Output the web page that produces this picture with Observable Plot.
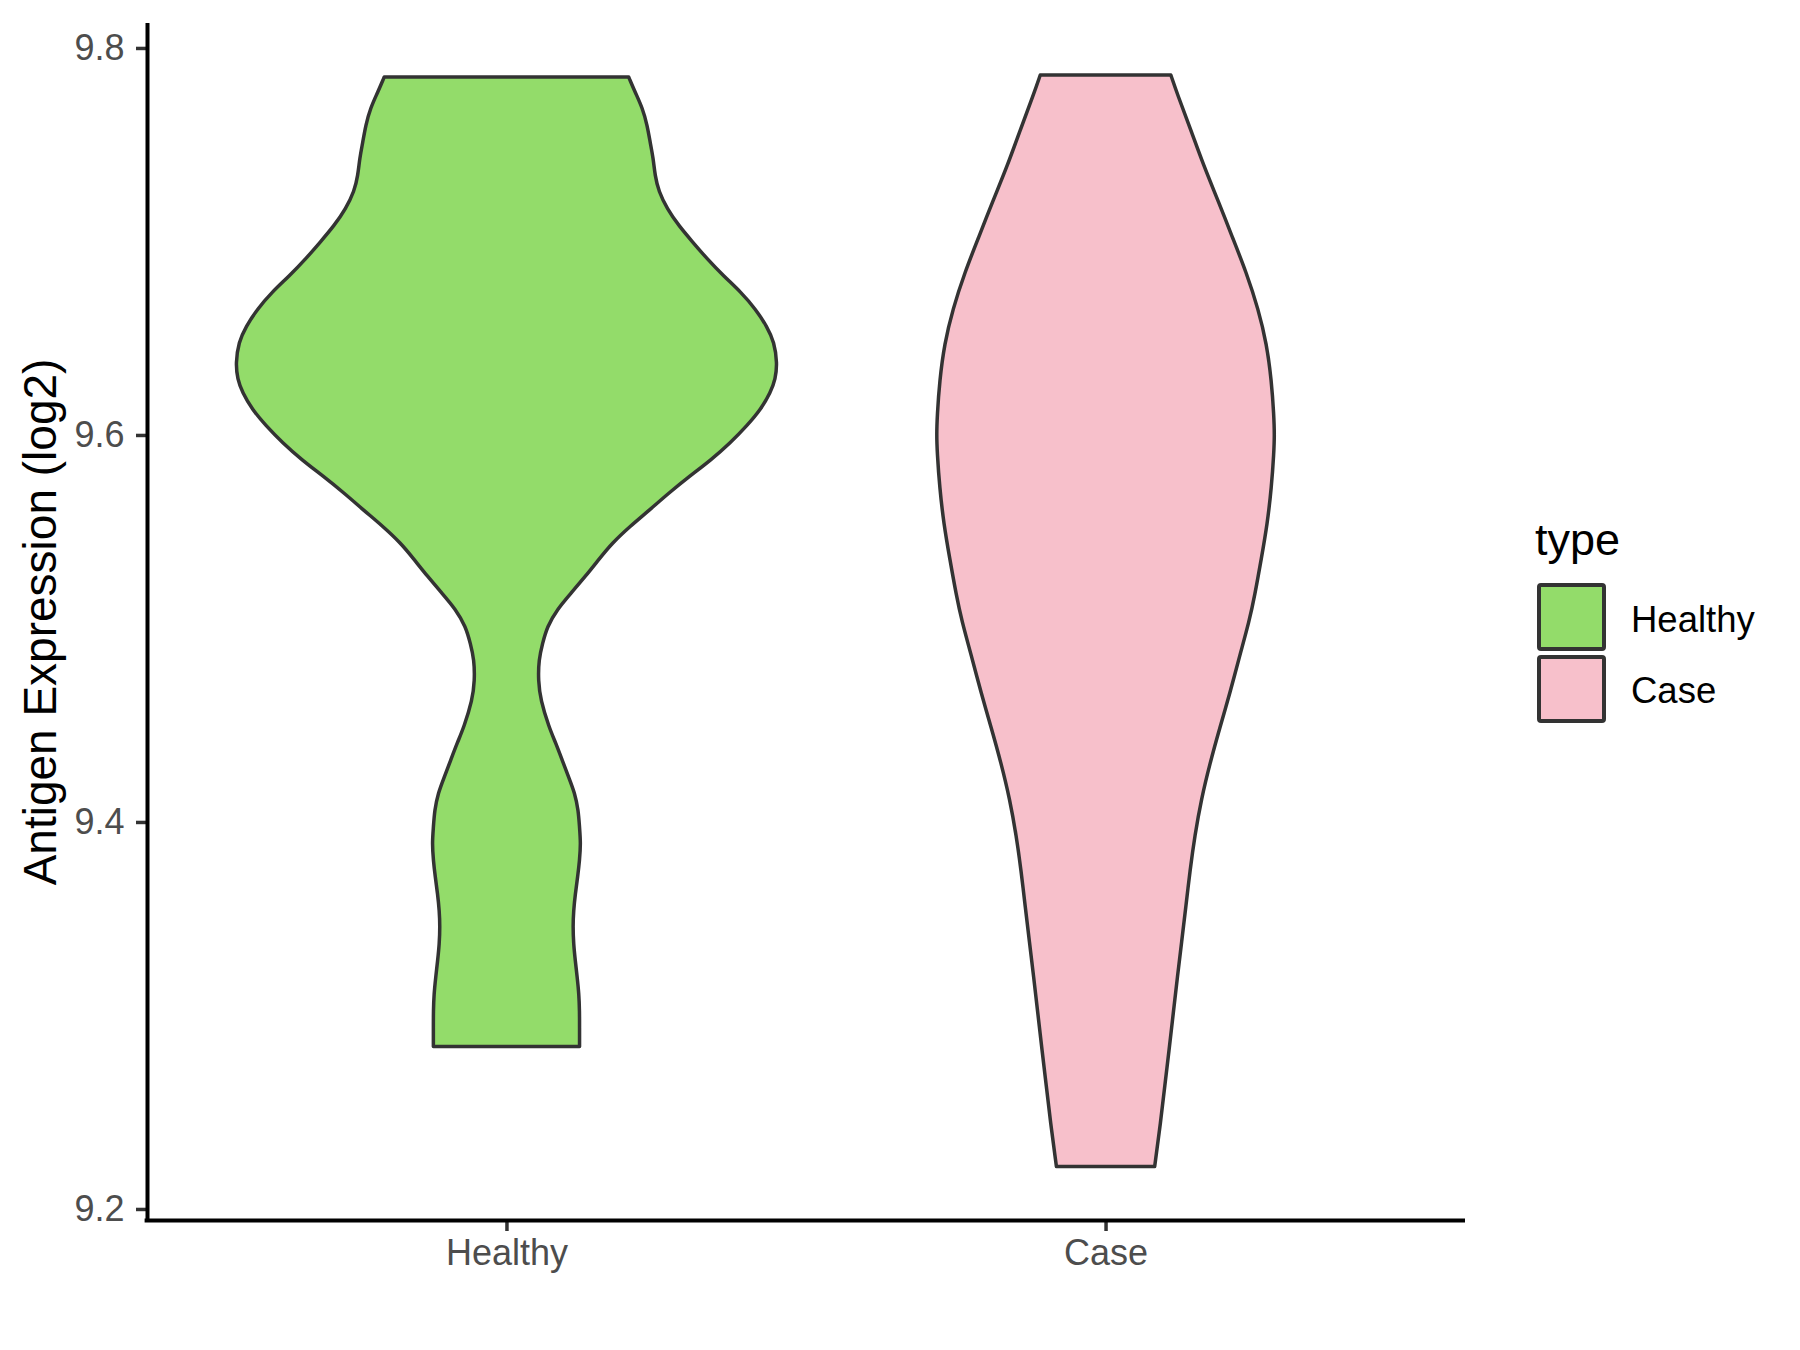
<!DOCTYPE html>
<html>
<head>
<meta charset="utf-8">
<script src="https://cdn.jsdelivr.net/npm/d3@7"></script>
<script src="https://cdn.jsdelivr.net/npm/@observablehq/plot@0.6"></script>
<style>
  html, body { margin: 0; padding: 0; background: #fff; }
  #wrap { position: relative; width: 1800px; height: 1350px; font-family: "Liberation Sans", Arial, sans-serif; }
  #chart { position: absolute; left: 0; top: 0; }
  #legend { position: absolute; left: 1500px; top: 500px; }
</style>
</head>
<body>
<div id="wrap"><div id="chart"></div><div id="legend"></div></div>
<script>
// ---- data ----
const categories = ["Healthy", "Case"];
const fills = ["#93DC6A", "#F7C0CB"];
const yTicks = [9.2, 9.4, 9.6, 9.8];
const yLabel = "Antigen Expression (log2)";
const legendTitle = "type";

// violin outlines: expression value and half-width (in category units)
const healthyValues = [9.785, 9.777, 9.769, 9.760, 9.751, 9.743, 9.734, 9.726, 9.717, 9.708,
  9.700, 9.691, 9.682, 9.674, 9.665, 9.656, 9.648, 9.637, 9.629, 9.622,
  9.613, 9.605, 9.596, 9.587, 9.579, 9.570, 9.561, 9.553, 9.544, 9.536,
  9.527, 9.518, 9.510, 9.501, 9.492, 9.484, 9.473, 9.463, 9.449, 9.441,
  9.432, 9.423, 9.415, 9.406, 9.397, 9.389, 9.380, 9.372, 9.363, 9.354,
  9.346, 9.337, 9.328, 9.320, 9.311, 9.302, 9.294, 9.284];
const healthyHalfWidths = [0.204, 0.215, 0.227, 0.235, 0.240, 0.245, 0.248, 0.254, 0.268, 0.288,
  0.310, 0.335, 0.363, 0.391, 0.416, 0.435, 0.447, 0.452, 0.449, 0.441,
  0.424, 0.402, 0.374, 0.341, 0.307, 0.271, 0.238, 0.207, 0.176, 0.155,
  0.132, 0.107, 0.085, 0.068, 0.060, 0.054, 0.053, 0.057, 0.071, 0.082,
  0.093, 0.104, 0.114, 0.120, 0.122, 0.124, 0.122, 0.119, 0.115, 0.112,
  0.111, 0.112, 0.115, 0.118, 0.121, 0.122, 0.122, 0.122];

const caseValues = [9.786, 9.776, 9.758, 9.739, 9.721, 9.702, 9.684, 9.665, 9.647, 9.628,
  9.610, 9.600, 9.591, 9.573, 9.554, 9.536, 9.517, 9.504, 9.486, 9.467,
  9.449, 9.430, 9.412, 9.393, 9.375, 9.356, 9.338, 9.320, 9.301, 9.282,
  9.264, 9.245, 9.222];
const caseHalfWidths = [0.109, 0.120, 0.142, 0.164, 0.188, 0.212, 0.235, 0.255, 0.269, 0.277,
  0.281, 0.282, 0.281, 0.277, 0.270, 0.260, 0.249, 0.240, 0.224, 0.208,
  0.191, 0.174, 0.160, 0.149, 0.141, 0.134, 0.127, 0.120, 0.113, 0.106,
  0.099, 0.092, 0.082];

// ---- build table ----
const rows = [];
[[healthyValues, healthyHalfWidths], [caseValues, caseHalfWidths]].forEach(([vals, ws], i) => {
  vals.forEach((v, j) => rows.push({type: categories[i], pos: i + 1, value: v, w: ws[j]}));
});

const font = '"Liberation Sans", Arial, sans-serif';

const chart = Plot.plot({
  width: 1500,
  height: 1350,
  marginLeft: 147,
  marginRight: 35,
  marginTop: 23,
  marginBottom: 130,
  style: {fontFamily: font, background: "#fff"},
  x: {type: "linear", domain: [0.4, 2.6]},
  y: {domain: [9.1943, 9.8129]},
  color: {domain: categories, range: fills},
  marks: [
    Plot.areaX(rows, {
      y: "value",
      x1: d => d.pos - d.w,
      x2: d => d.pos + d.w,
      z: "type",
      fill: "type",
      stroke: "#333333",
      strokeWidth: 3.5,
      strokeLinejoin: "round",
      curve: "basis"
    }),
    Plot.axisY(yTicks, {
      tickSize: 11, tickPadding: 12, tickFormat: d3.format(".1f"),
      fontSize: 36, stroke: "#333333", strokeWidth: 3.5, fill: "#4D4D4D", label: null
    }),
    Plot.axisX([1, 2], {
      tickSize: 11, tickPadding: 8, tickFormat: d => categories[d - 1],
      fontSize: 36, stroke: "#333333", strokeWidth: 3.5, fill: "#4D4D4D", label: null
    }),
    Plot.ruleX([0.4], {stroke: "#000", strokeWidth: 4}),
    Plot.ruleY([9.1943], {stroke: "#000", strokeWidth: 4, x1: 0.4 - 0.004, x2: 2.6}),
    Plot.text([yLabel], {frameAnchor: "left", textAnchor: "middle", dx: -106, rotate: -90, fontSize: 46, fill: "#000"})
  ]
});
document.getElementById("chart").appendChild(chart);

// ---- legend ----
const lg = d3.select("#legend").append("svg")
  .attr("width", 300).attr("height", 260)
  .style("font-family", font);
lg.append("text").attr("x", 35).attr("y", 55).attr("font-size", 45).attr("fill", "#000").text(legendTitle);
categories.forEach((c, i) => {
  lg.append("rect")
    .attr("x", 39).attr("y", 85 + i * 72)
    .attr("width", 65).attr("height", 64)
    .attr("rx", 2)
    .attr("fill", fills[i]).attr("stroke", "#333333").attr("stroke-width", 4);
  lg.append("text")
    .attr("x", 131).attr("y", 132 + i * 71)
    .attr("font-size", 36.5).attr("fill", "#000").text(c);
});
</script>
</body>
</html>
